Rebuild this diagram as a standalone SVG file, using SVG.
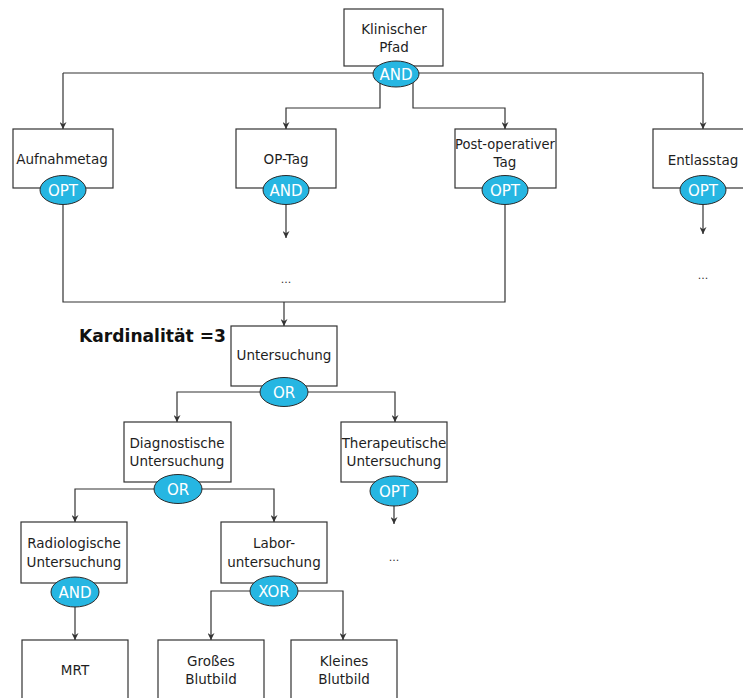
<svg xmlns="http://www.w3.org/2000/svg" width="743" height="698" viewBox="0 0 743 698">
  <style>
    .box { fill: #ffffff; stroke: #333333; stroke-width: 1.2; }
    .op { fill: #26b6e2; stroke: #2a2a2a; stroke-width: 1; }
    .lbl { font-family: "DejaVu Sans", "Liberation Sans", sans-serif; font-size: 13.5px; fill: #1e1e1e; text-anchor: middle; }
    .opt { font-family: "DejaVu Sans", "Liberation Sans", sans-serif; font-size: 15px; fill: #ffffff; text-anchor: middle; }
    .dots { font-family: "DejaVu Sans", sans-serif; font-size: 11px; fill: #333333; text-anchor: middle; }
    .wire { fill: none; stroke: #333333; stroke-width: 1.2; }
    .arr { fill: none; stroke: #333333; stroke-width: 1.2; marker-end: url(#tip); }
    .card { font-family: "DejaVu Sans", "Liberation Sans", sans-serif; font-size: 17px; font-weight: bold; fill: #111111; }
  </style>
  <defs>
    <!-- small barbed arrowhead, tip at the end of the line -->
    <marker id="tip" viewBox="0 0 8 8" refX="8" refY="4" markerWidth="7" markerHeight="7" orient="auto" markerUnits="userSpaceOnUse">
      <path d="M0,0 L8,4 L0,8 L2.5,4 Z" fill="#333333"/>
    </marker>
  </defs>
  <rect width="743" height="698" fill="#ffffff"/>

  <!-- connectors -->
  <g id="connectors">
    <!-- Klinischer Pfad AND -->
    <path class="wire" d="M63,73 H703"/>
    <path class="arr" d="M63,73 V129"/>
    <path class="arr" d="M703,73 V129"/>
    <path class="arr" d="M380,80 V108 H286 V129"/>
    <path class="arr" d="M413,80 V108 H505 V129"/>
    <!-- OP-Tag / Entlasstag continuations -->
    <path class="arr" d="M286,200 V238"/>
    <path class="arr" d="M703,200 V234"/>
    <!-- Aufnahmetag + Post-operativer Tag -> Untersuchung -->
    <path class="wire" d="M63,200 V302 H505 V200"/>
    <path class="arr" d="M284,302 V326"/>
    <!-- Untersuchung OR -->
    <path class="arr" d="M270,392 H177 V422"/>
    <path class="arr" d="M298,392 H395 V422"/>
    <!-- Diagnostische OR -->
    <path class="arr" d="M165,489 H75 V522"/>
    <path class="arr" d="M190,489 H274 V522"/>
    <!-- Therapeutische OPT -->
    <path class="arr" d="M394,500 V524"/>
    <!-- Radiologische AND -->
    <path class="arr" d="M75,600 V640"/>
    <!-- Labor XOR -->
    <path class="arr" d="M262,591 H211 V640"/>
    <path class="arr" d="M286,591 H343 V640"/>
  </g>

  <g id="pfad">
    <rect class="box" x="344" y="9" width="99" height="57"/>
    <text class="lbl" x="394" y="34">Klinischer</text>
    <text class="lbl" x="394" y="52">Pfad</text>
    <ellipse class="op" cx="396" cy="74" rx="23" ry="13"/>
    <text class="opt" x="396" y="80">AND</text>
  </g>

  <g id="aufnahmetag">
    <rect class="box" x="13" y="129" width="100" height="59"/>
    <text class="lbl" x="62" y="164">Aufnahmetag</text>
    <ellipse class="op" cx="63" cy="190" rx="23" ry="14.5"/>
    <text class="opt" x="63" y="196">OPT</text>
  </g>

  <g id="op-tag">
    <rect class="box" x="236" y="129" width="100" height="59"/>
    <text class="lbl" x="286" y="164">OP-Tag</text>
    <ellipse class="op" cx="286" cy="190" rx="23" ry="14.5"/>
    <text class="opt" x="286" y="196">AND</text>
    <text class="dots" x="286" y="283">...</text>
  </g>

  <g id="post-op">
    <rect class="box" x="455" y="129" width="101" height="59"/>
    <text class="lbl" x="505" y="149" textLength="100" lengthAdjust="spacingAndGlyphs">Post-operativer</text>
    <text class="lbl" x="505" y="167">Tag</text>
    <ellipse class="op" cx="505" cy="190" rx="23" ry="14.5"/>
    <text class="opt" x="505" y="196">OPT</text>
  </g>

  <g id="entlasstag">
    <rect class="box" x="653" y="129" width="100" height="59"/>
    <text class="lbl" x="703" y="165">Entlasstag</text>
    <ellipse class="op" cx="703" cy="190" rx="23" ry="14.5"/>
    <text class="opt" x="703" y="196">OPT</text>
    <text class="dots" x="703" y="279">...</text>
  </g>

  <g id="untersuchung">
    <text class="card" x="79" y="342" textLength="147" lengthAdjust="spacingAndGlyphs">Kardinalität =3</text>
    <rect class="box" x="231" y="326" width="106" height="60"/>
    <text class="lbl" x="284" y="360">Untersuchung</text>
    <ellipse class="op" cx="284" cy="392" rx="24" ry="14.5"/>
    <text class="opt" x="284" y="398">OR</text>
  </g>

  <g id="diagnostische">
    <rect class="box" x="124" y="422" width="107" height="60"/>
    <text class="lbl" x="177" y="448">Diagnostische</text>
    <text class="lbl" x="177" y="466">Untersuchung</text>
    <ellipse class="op" cx="178" cy="489" rx="24" ry="14.5"/>
    <text class="opt" x="178" y="495">OR</text>
  </g>

  <g id="therapeutische">
    <rect class="box" x="341" y="422" width="106" height="60"/>
    <text class="lbl" x="394" y="448">Therapeutische</text>
    <text class="lbl" x="394" y="466">Untersuchung</text>
    <ellipse class="op" cx="394" cy="491" rx="24" ry="15"/>
    <text class="opt" x="394" y="497">OPT</text>
    <text class="dots" x="394" y="561">...</text>
  </g>

  <g id="radiologische">
    <rect class="box" x="21" y="522" width="106" height="61"/>
    <text class="lbl" x="74" y="548">Radiologische</text>
    <text class="lbl" x="74" y="567">Untersuchung</text>
    <ellipse class="op" cx="75" cy="592" rx="24" ry="15"/>
    <text class="opt" x="75" y="598">AND</text>
  </g>

  <g id="labor">
    <rect class="box" x="221" y="522" width="106" height="61"/>
    <text class="lbl" x="274" y="548">Labor-</text>
    <text class="lbl" x="274" y="567">untersuchung</text>
    <ellipse class="op" cx="274" cy="591" rx="24" ry="15"/>
    <text class="opt" x="274" y="597">XOR</text>
  </g>

  <g id="mrt">
    <rect class="box" x="22" y="640" width="106" height="62"/>
    <text class="lbl" x="75" y="675">MRT</text>
  </g>

  <g id="grosses-blutbild">
    <rect class="box" x="158" y="640" width="106" height="62"/>
    <text class="lbl" x="211" y="666">Großes</text>
    <text class="lbl" x="211" y="684">Blutbild</text>
  </g>

  <g id="kleines-blutbild">
    <rect class="box" x="291" y="640" width="106" height="62"/>
    <text class="lbl" x="344" y="666">Kleines</text>
    <text class="lbl" x="344" y="684">Blutbild</text>
  </g>
</svg>
